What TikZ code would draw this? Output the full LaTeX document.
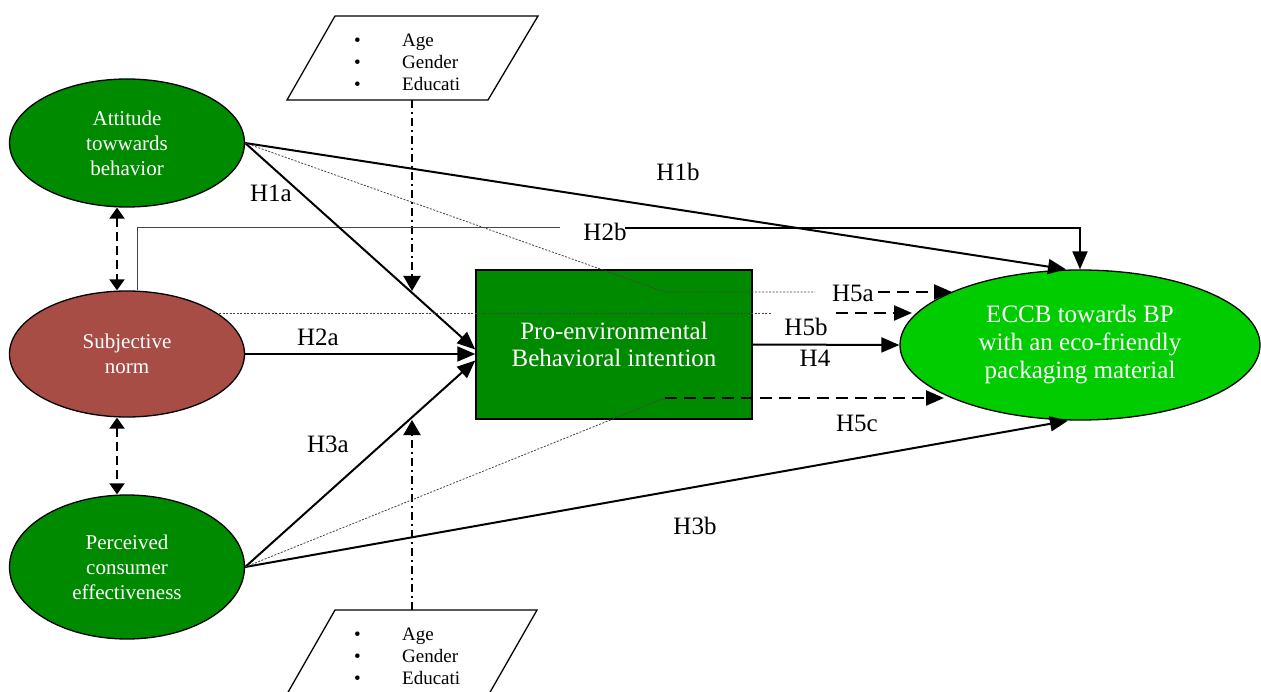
\documentclass[tikz,border=0pt]{standalone}
\usepackage{fontspec}
\setmainfont{Liberation Serif}
\usetikzlibrary{arrows.meta,shapes.geometric}
\definecolor{Leaf}{HTML}{008A00}
\definecolor{Brick}{HTML}{A84C46}
\definecolor{Lime}{HTML}{00CC00}
\definecolor{Ink}{HTML}{000000}
\definecolor{Haze}{HTML}{444444}

\begin{document}
\begin{tikzpicture}[x=1pt,y=-1pt,construct/.style={ellipse,draw=Ink,line width=1.3pt,minimum width=235pt,minimum height=126pt,inner sep=0pt,align=center,text=white,font=\fontsize{21}{25}\selectfont},intent/.style={rectangle,draw=Ink,line width=1.5pt,fill=Leaf,minimum width=276pt,minimum height=149pt,inner sep=0pt,align=center,text=white,font=\fontsize{25}{27}\selectfont},outcome/.style={ellipse,draw=Ink,line width=1.3pt,fill=Lime,minimum width=360pt,minimum height=150pt,inner sep=0pt,align=center,text=white,font=\fontsize{25}{28}\selectfont},hyp/.style={font=\fontsize{25}{28}\selectfont,text=Ink,inner sep=0pt},demog/.style={anchor=west,align=left,inner sep=0pt,font=\fontsize{19}{22}\selectfont},path/.style={-{Triangle[length=18pt,width=15pt]},line width=2pt,draw=Ink},control/.style={-{Triangle[length=15pt,width=17pt]},line width=2pt,dash pattern=on 8pt off 4pt on 2pt off 4pt},corr/.style={{Triangle[length=11pt,width=15pt]}-{Triangle[length=11pt,width=15pt]},line width=2pt,dash pattern=on 9pt off 5pt},mediated/.style={-{Triangle[length=18pt,width=15pt]},line width=2.3pt,dash pattern=on 12pt off 7pt},via/.style={draw=Haze,line width=0.8pt,dash pattern=on 2pt off 1.5pt},thinline/.style={draw=Haze,line width=1pt}]
\useasboundingbox (0,0) rectangle (1261,692);
\fill[white] (0,0) rectangle (1261,692);
\clip (0,0) rectangle (1261,692);
\node[construct,fill=Leaf,minimum height=128pt] (att) at (127,143) {Attitude\\towwards\\behavior};
\node[construct,fill=Brick] (sn) at (127,354) {Subjective\\norm};
\node[construct,fill=Leaf,minimum height=144pt] (pce) at (127,567) {Perceived\\consumer\\effectiveness};
\node[intent] (pbi) at (614,344.5) {Pro-environmental\\Behavioral intention};
\node[outcome] (eccb) at (1080,345) {ECCB towards BP\\with an eco-friendly\\packaging material};
\draw[line width=1.3pt,fill=white] (335,16)--(538,16)--(488,100)--(287,100)--cycle;
\node[demog] (demtop) at (354,62) {\makebox[48pt][l]{•}Age\\\makebox[48pt][l]{•}Gender\\\makebox[48pt][l]{•}Educati};
\draw[line width=1.3pt,fill=white] (335,610)--(537,610)--(489,694)--(287,694)--cycle;
\node[demog] (dembot) at (354,656) {\makebox[48pt][l]{•}Age\\\makebox[48pt][l]{•}Gender\\\makebox[48pt][l]{•}Educati};
\coordinate (ctltop) at (412,100);
\coordinate (ctltopend) at (412,291);
\coordinate (ctlbot) at (412,610);
\coordinate (ctlbotend) at (412,420);
\draw[control] (ctltop) -- (ctltopend);
\draw[control] (ctlbot) -- (ctlbotend);
\draw[corr] (att.south -| 117,0) -- (sn.north -| 117,0);
\draw[corr] (sn.south -| 117,0) -- (pce.north -| 117,0);
\node[hyp] (h1a) at (271,193) {H1a};
\node[hyp] (h1b) at (678,172) {H1b};
\node[hyp] (h2a) at (318,337) {H2a};
\node[hyp] (h2b) at (605,232) {H2b};
\node[hyp] (h3a) at (328,444) {H3a};
\node[hyp] (h3b) at (695,526) {H3b};
\node[hyp] (h4) at (815,358) {H4};
\node[hyp] (h5a) at (853,293) {H5a};
\node[hyp] (h5b) at (806,327) {H5b};
\node[hyp] (h5c) at (857,423) {H5c};
\coordinate (h2bbend) at (137,228);
\coordinate (h2bstop) at (560,228);
\coordinate (h2bgo) at (625,228);
\draw[thinline] ([xshift=10pt]sn.north) -- (h2bbend) -- (h2bstop);
\draw[path] (h2bgo) -| (eccb.north);
\draw[path] (att.east) -- ([yshift=-5pt]pbi.west);
\draw[path] (sn.east) -- (sn.east -| pbi.west);
\draw[path] (pce.east) -- ([yshift=-16pt]pbi.west);
\draw[path] (att.east) -- ([xshift=-14pt]eccb.north);
\draw[path] (pce.east) -- ([xshift=-12pt]eccb.south);
\draw[path] (pbi.east) -- (eccb.west);
\coordinate (m5a) at (665,292);
\coordinate (m5astop) at (815,292);
\coordinate (m5ago) at (878,292);
\coordinate (m5aend) at (952,292);
\draw[via] (att.east) -- (m5a) -- (m5astop);
\draw[mediated] (m5ago) -- (m5aend);
\coordinate (m5bstart) at (219,313);
\coordinate (m5bstop) at (772,313);
\coordinate (m5bgo) at (836,313);
\coordinate (m5bend) at (912,313);
\draw[via] (m5bstart) -- (m5bstop);
\draw[mediated] (m5bgo) -- (m5bend);
\coordinate (m5c) at (665,398);
\coordinate (m5cend) at (944,398);
\draw[via] (pce.east) -- (m5c);
\draw[mediated] (m5c) -- (m5cend);
\end{tikzpicture}
\end{document}
